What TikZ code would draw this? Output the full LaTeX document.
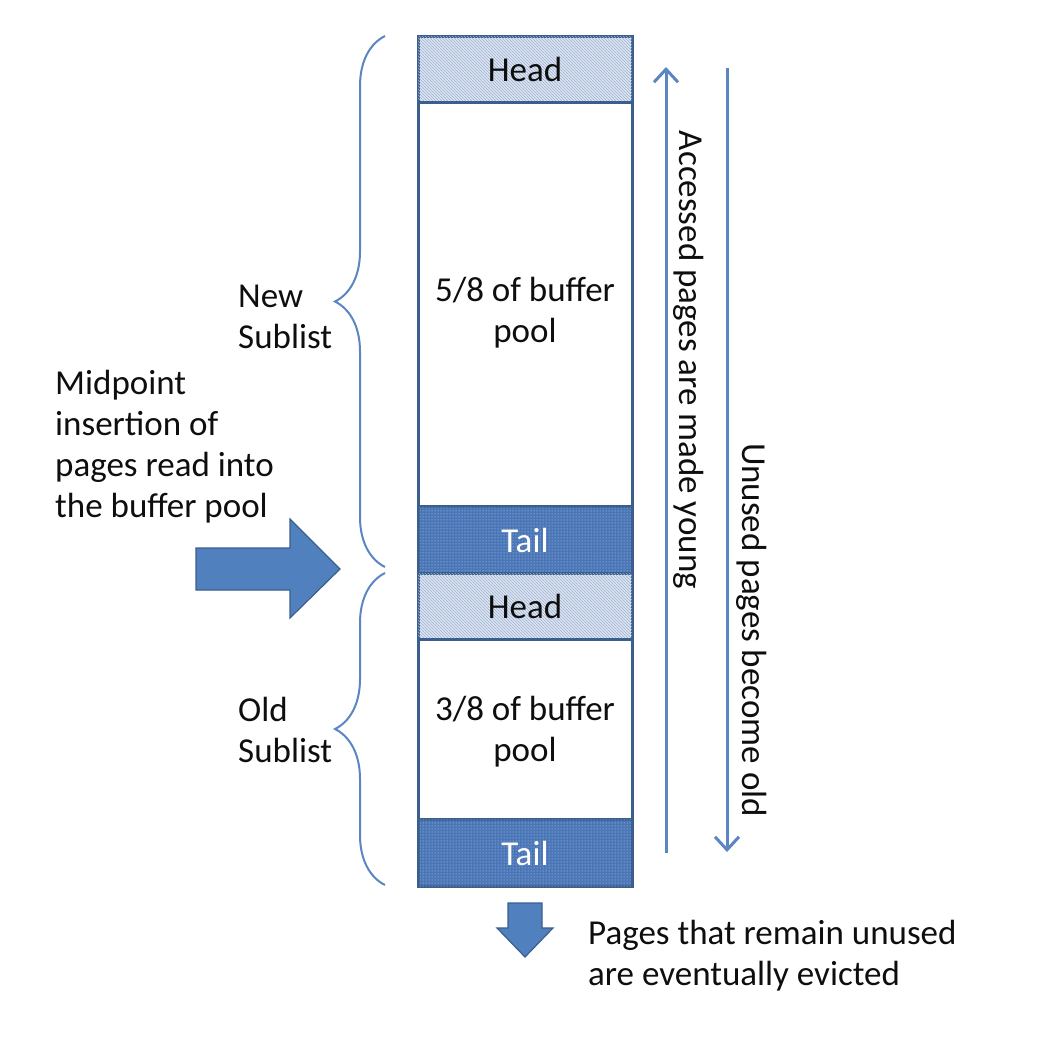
\documentclass[tikz,border=0pt]{standalone}
\usepackage{fontspec}
\setmainfont{Carlito}
\usetikzlibrary{patterns,decorations.pathreplacing,arrows.meta}
\definecolor{edgec}{HTML}{3A5F8E}
\definecolor{tailc}{HTML}{4A76B8}
\definecolor{headc}{HTML}{DCE5F1}
\definecolor{hatchc}{HTML}{9FB3CF}
\definecolor{linec}{HTML}{5B86C2}
\definecolor{bigarr}{HTML}{5080BD}
\definecolor{txt}{HTML}{0E0E0E}
\tikzset{
  every node/.style={font=\fontsize{35}{41}\selectfont, text=txt},
  cell/.style={draw=edgec, line width=3pt, minimum width=214pt, anchor=north, inner sep=0pt, align=center},
  headcell/.style={cell, fill=headc, postaction={pattern=north west lines, pattern color=hatchc}},
  tailcell/.style={cell, fill=tailc, text=white, postaction={pattern=dots, pattern color=white!70!tailc}},
  plaincell/.style={cell, fill=white},
  sbrace/.style={draw=linec, line width=2pt, decorate, decoration={brace, amplitude=50pt}},
  flow/.style={draw=linec, line width=3pt, -{Straight Barb[length=13pt,width=24pt,line width=3pt]}},
  fat/.style={fill=bigarr, draw=edgec, line width=1.2pt},
  lbl/.style={align=left, anchor=north west, inner sep=0pt},
}
\begin{document}
\begin{tikzpicture}[x=1pt,y=-1pt]
\useasboundingbox (0,0) rectangle (1040,1060);
% column
\node[headcell, minimum height=66pt] (h1) at (525,35) {Head};
\node[plaincell, minimum height=404pt] (n1) at (525,101) {};
\node[tailcell, minimum height=67pt] (t1) at (525,505) {Tail};
\node[headcell, minimum height=66pt] (h2) at (525,572) {Head};
\node[plaincell, minimum height=180pt] (o1) at (525,638) {};
\node[tailcell, minimum height=67pt] (t2) at (525,818) {Tail};
\node[align=center] (newtxt) at (525,313) {5/8 of buffer\\pool};
\node[align=center] (oldtxt) at (525,732) {3/8 of buffer\\pool};
% braces
\coordinate (b1a) at (385,567);
\coordinate (b1b) at (385,36);
\coordinate (b2a) at (385,885);
\coordinate (b2b) at (385,573);
\draw[sbrace] (b1a) -- (b1b);
\draw[sbrace] (b2a) -- (b2b);
\node[lbl] (newsub) at (238,285) {New\\Sublist};
\node[lbl] (oldsub) at (238,697) {Old\\Sublist};
\node[lbl] (mid) at (55,370) {Midpoint\\insertion of\\pages read into\\the buffer pool};
% big right arrow
\draw[fat] (196,548) -- (290,548) -- (290,519) -- (340,569) -- (290,618) -- (290,590) -- (196,590) -- cycle;
% small down arrow
\draw[fat] (508,903) -- (542,903) -- (542,928) -- (553,928) -- (525,957) -- (497,928) -- (508,928) -- cycle;
\node[lbl] (evict) at (588,920) {Pages that remain unused\\are eventually evicted};
% flow arrows
\coordinate (ua) at (666,853);
\coordinate (ub) at (666,67);
\coordinate (da) at (727,68);
\coordinate (db) at (727,852);
\draw[flow] (ua) -- (ub);
\draw[flow] (da) -- (db);
\node[rotate=-90] (young) at (689,360) {Accessed pages are made young};
\node[rotate=-90] (oldr) at (752,630) {Unused pages become old};
\end{tikzpicture}
\end{document}
